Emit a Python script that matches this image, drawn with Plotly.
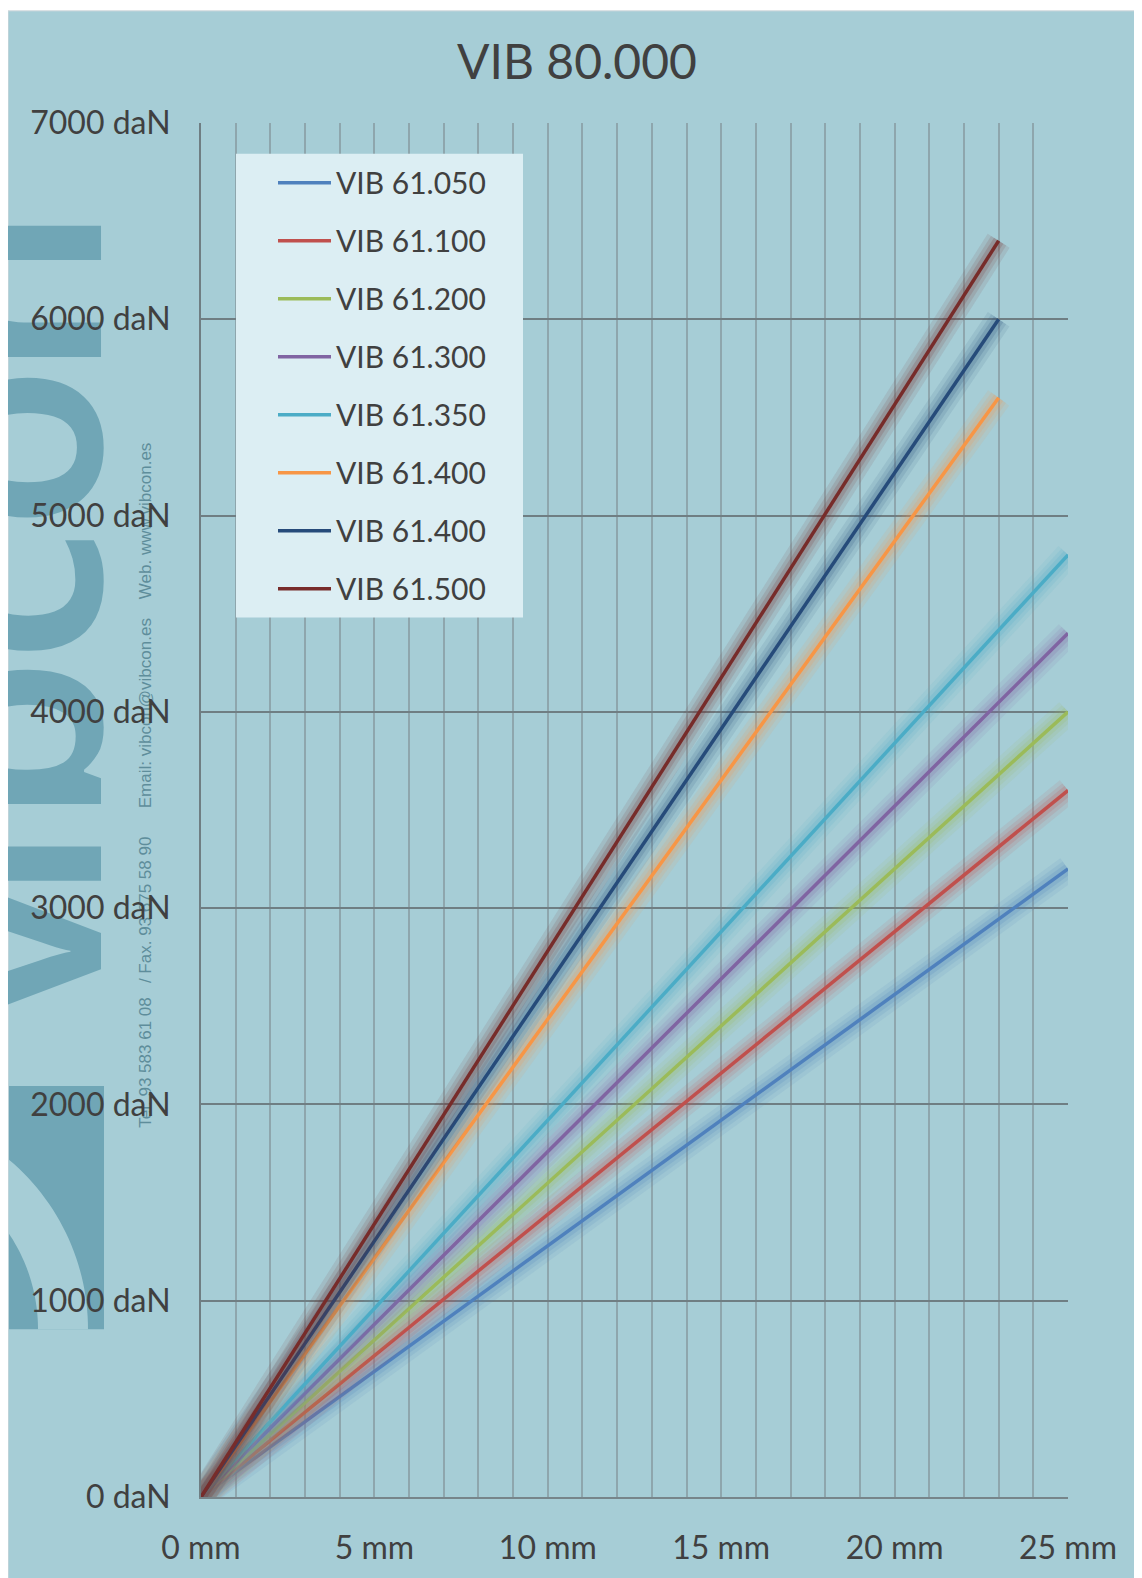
import numpy as np
import plotly.graph_objects as go

# ---------------- data ----------------
chart_title = "VIB 80.000"
series_names = ["VIB 61.050", "VIB 61.100", "VIB 61.200", "VIB 61.300",
                "VIB 61.350", "VIB 61.400", "VIB 61.400", "VIB 61.500"]
deflection_mm = [[0, 25], [0, 25], [0, 25], [0, 25],
                 [0, 25], [0, 23], [0, 23], [0, 23]]
load_daN = [[0, 3200], [0, 3600], [0, 4000], [0, 4400],
            [0, 4800], [0, 5600], [0, 6000], [0, 6400]]
series_colors = ["#4F81BD", "#C0504D", "#9BBB59", "#8064A2",
                 "#4BACC6", "#F79646", "#264B7A", "#772C2A"]
x_tickvals = [0, 5, 10, 15, 20, 25]
x_ticktext = ["0 mm", "5 mm", "10 mm", "15 mm", "20 mm", "25 mm"]
y_tickvals = [0, 1000, 2000, 3000, 4000, 5000, 6000, 7000]
y_ticktext = ["0 daN", "1000 daN", "2000 daN", "3000 daN",
              "4000 daN", "5000 daN", "6000 daN", "7000 daN"]
contact_text = ("Tel. 93 583 61 08\u00a0\u00a0\u00a0/ Fax. 93 675 58 90"
                "\u00a0\u00a0\u00a0\u00a0\u00a0\u00a0Email: vibcon@vibcon.es"
                "\u00a0\u00a0\u00a0\u00a0Web. www.vibcon.es")
watermark_letters = ["v", "i", "b", "c", "o", "n"]

# ---------------- layout geometry (page pixels; page has an 8px body margin) ----------------
OFF = 8
W, H = 1142 - OFF, 1578 - OFF
L, T = 201 - OFF, 123 - OFF
R = W - (1068 - OFF)
B = H - (1507 - OFF)
PW, PH = W - L - R, H - T - B

def px(xp):
    return (xp - OFF - L) / PW

def py(yp):
    return (H - B - (yp - OFF)) / PH

BG = "#A6CDD6"
WM = "#70A6B6"
TXT = "#404040"

def hex_rgba(h, a):
    h = h.lstrip("#")
    return "rgba(%d,%d,%d,%.3f)" % (int(h[0:2], 16), int(h[2:4], 16), int(h[4:6], 16), a)

fig = go.Figure()

for name, xs, ys, col in zip(series_names, deflection_mm, load_daN, series_colors):
    grp = name + col
    for wdt, alpha in ((26, 0.10), (18, 0.13), (11, 0.18)):
        fig.add_trace(go.Scatter(x=xs, y=ys, mode="lines", showlegend=False,
                                 legendgroup=grp, hoverinfo="skip",
                                 line=dict(color=hex_rgba(col, alpha), width=wdt)))
    fig.add_trace(go.Scatter(x=xs, y=ys, mode="lines", name=name, legendgroup=grp,
                             line=dict(color=col, width=3.5)))

# ---------------- decorations ----------------
shapes = []
# teal card
shapes.append(dict(type="rect", xref="paper", yref="paper", layer="below",
                   x0=px(8), x1=px(1150), y0=py(1590), y1=py(10),
                   fillcolor=BG, line=dict(color="#D3DADC", width=1)))
# logo mark (watermark)
shapes.append(dict(type="rect", xref="paper", yref="paper", layer="below",
                   x0=px(9), x1=px(104), y0=py(1338), y1=py(1093),
                   fillcolor=WM, line=dict(width=0)))
cx, cy, Ro, Ri = -136.0, 1338.0, 224.0, 174.0
x_clip = 9.0
t_out = np.linspace(np.arccos((x_clip - cx) / Ro), 0, 30)
t_in = np.linspace(0, np.arccos((x_clip - cx) / Ri), 30)
pts = [(cx + Ro * np.cos(t), cy - Ro * np.sin(t)) for t in t_out] + \
      [(cx + Ri * np.cos(t), cy - Ri * np.sin(t)) for t in t_in]
path = "M" + " L".join("%.5f,%.5f" % (px(a), py(b)) for a, b in pts) + " Z"
shapes.append(dict(type="path", xref="paper", yref="paper", layer="below",
                   path=path, fillcolor=BG, line=dict(width=0)))

# watermark word "vibcon" (rotated, behind the axes) as shape labels
letter_centers = [957, 869, 745, 600, 450, 293]
for ch, yc in zip(watermark_letters, letter_centers):
    shapes.append(dict(type="rect", xref="paper", yref="paper", layer="below",
                       x0=px(-45), x1=px(75), y0=py(yc + 60), y1=py(yc - 60),
                       fillcolor="rgba(0,0,0,0)", line=dict(width=0),
                       label=dict(text=ch, textangle=-90, textposition="middle center",
                                  font=dict(family="Noto Sans", size=270, color=WM,
                                            weight=600))))
# contact line
shapes.append(dict(type="rect", xref="paper", yref="paper", layer="below",
                   x0=px(134), x1=px(154), y0=py(1100), y1=py(480),
                   fillcolor="rgba(0,0,0,0)", line=dict(width=0),
                   label=dict(text=contact_text, textangle=-90, textposition="middle center",
                              font=dict(family="Liberation Sans", size=17, color="#5E8D9B"))))

# legend box
shapes.append(dict(type="rect", xref="paper", yref="paper", layer="above",
                   x0=px(236), x1=px(523), y0=py(621), y1=py(154),
                   fillcolor="#DCEEF3", line=dict(width=0)))

fig.update_layout(
    width=W, height=H,
    margin=dict(l=L, r=R, t=T, b=B),
    paper_bgcolor="white",
    plot_bgcolor="rgba(0,0,0,0)",
    title=dict(text=chart_title, x=(577 - OFF) / W, xanchor="center", xref="container",
               y=1 - (62 - OFF) / H, yanchor="middle", yref="container",
               font=dict(family="Lato", size=48, color=TXT)),
    font=dict(family="Lato", color=TXT),
    showlegend=True,
    legend=dict(x=px(273), y=py(157), xanchor="left", yanchor="top",
                bgcolor="rgba(0,0,0,0)", borderwidth=0, itemwidth=53,
                font=dict(family="Lato", size=30, color=TXT),
                tracegroupgap=16, traceorder="grouped"),
    shapes=shapes,
    xaxis=dict(range=[0, 25], tickmode="array", tickvals=x_tickvals, ticktext=x_ticktext,
               showgrid=True, gridcolor="#8EA6AD", gridwidth=1.5,
               minor=dict(dtick=1, showgrid=True, gridcolor="#8EA6AD", gridwidth=1.5),
               zeroline=False, showline=True, linecolor="#77858A", linewidth=2,
               ticks="", ticklabelstandoff=22,
               tickfont=dict(family="Lato", size=32, color=TXT)),
    yaxis=dict(range=[0, 7000], tickmode="array", tickvals=y_tickvals, ticktext=y_ticktext,
               showgrid=True, gridcolor="#6F7E83", gridwidth=2,
               zeroline=False, showline=True, linecolor="#6F7E83", linewidth=2,
               ticks="", ticklabelstandoff=22,
               tickfont=dict(family="Lato", size=32, color=TXT)),
)

fig.write_html("out.html")
